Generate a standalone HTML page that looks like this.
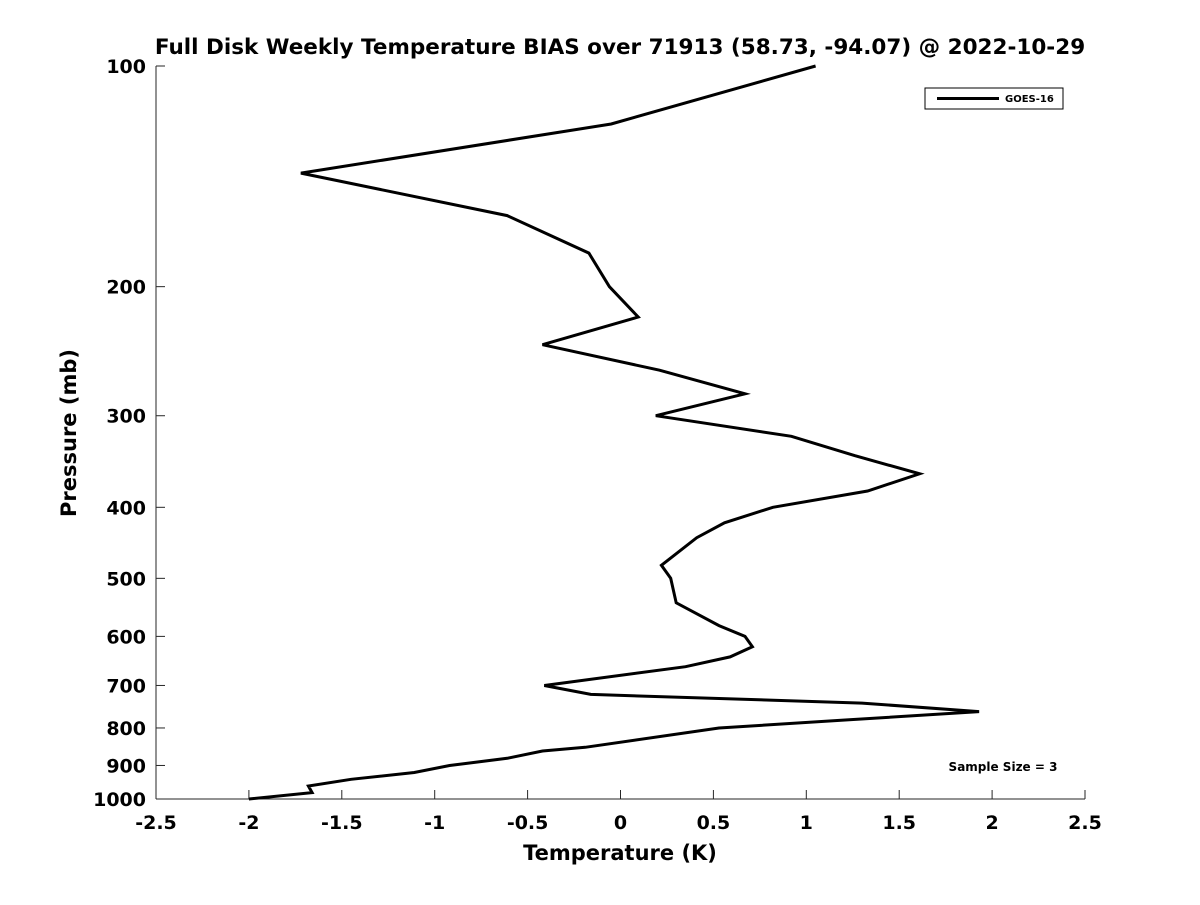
<!DOCTYPE html>
<html><head><meta charset="utf-8"><style>
body{margin:0;background:#fff;}
svg text{font-family:"DejaVu Sans","Liberation Sans",sans-serif;font-weight:bold;fill:#000;}
</style></head><body>
<svg id="chart" width="1200" height="900" xmlns="http://www.w3.org/2000/svg">
<rect width="1200" height="900" fill="#fff"/>
<text x="620" y="54" font-size="21.5" text-anchor="middle">Full Disk Weekly Temperature BIAS over 71913 (58.73, -94.07) @ 2022-10-29</text>
<g id="axes"></g>
<path id="line" fill="none" stroke="#000" stroke-width="3" stroke-linejoin="miter"/>
<g>
<rect x="925" y="88" width="138" height="21" fill="#fff" stroke="#000" stroke-width="1"/>
<line x1="937" y1="98.5" x2="999" y2="98.5" stroke="#000" stroke-width="3"/>
<text x="1005" y="102" font-size="10">GOES-16</text>
</g>
<text x="1003" y="771" font-size="12" text-anchor="middle">Sample Size = 3</text>
<text x="620" y="860" font-size="21" text-anchor="middle" fill="#262626">Temperature (K)</text>
<text x="76" y="433" font-size="21" text-anchor="middle" fill="#262626" transform="rotate(-90 76 433)">Pressure (mb)</text>
</svg>
<script>
const pressures=[100,120,140,160,180,200,220,240,260,280,300,320,340,360,380,400,420,440,480,500,540,580,600,620,640,660,700,720,740,760,780,800,850,860,880,900,920,940,960,980,1000];
const biasValues=[1.05,-0.05,-1.72,-0.61,-0.17,-0.06,0.095,-0.42,0.21,0.67,0.19,0.92,1.26,1.61,1.33,0.82,0.56,0.41,0.22,0.27,0.30,0.53,0.67,0.71,0.59,0.35,-0.41,-0.16,1.30,1.93,1.22,0.53,-0.19,-0.42,-0.61,-0.92,-1.11,-1.45,-1.68,-1.66,-2.0];
const xTicks=[-2.5,-2,-1.5,-1,-0.5,0,0.5,1,1.5,2,2.5];
const yTicks=[100,200,300,400,500,600,700,800,900,1000];
const X0=156,X1=1085,Y0=66,Y1=799;
function xs(v){return X0+(v+2.5)/5*(X1-X0);}
function ys(p){return Y0+Math.log10(p/100)*(Y1-Y0);}
const NS="http://www.w3.org/2000/svg";
const ax=document.getElementById('axes');
function mk(t,a){const e=document.createElementNS(NS,t);for(const k in a)e.setAttribute(k,a[k]);return e;}
let l=mk('line',{x1:X0,y1:Y1,x2:X1,y2:Y1,stroke:'#262626','stroke-width':1});


ax.appendChild(l);
l=mk('line',{x1:X0,y1:Y0,x2:X0,y2:Y1,stroke:'#262626','stroke-width':1});


ax.appendChild(l);
xTicks.forEach(v=>{const x=xs(v);
 const t=mk('line',{x1:x,y1:Y1,x2:x,y2:Y1-9,stroke:'#262626'});
 
 
 ax.appendChild(t);
 const tx=mk('text',{x:x,y:829,'font-size':19,'text-anchor':'middle',fill:'#262626'});
 tx.textContent=String(v);
 
 
 ax.appendChild(tx);});
yTicks.forEach(p=>{const y=ys(p);
 const t=mk('line',{x1:X0,y1:y,x2:X0+9,y2:y,stroke:'#262626'});
 
 
 ax.appendChild(t);
 const tx=mk('text',{x:146,y:y+7,'font-size':19,'text-anchor':'end',fill:'#262626'});
 tx.textContent=String(p);
 
 
 ax.appendChild(tx);});
document.getElementById('line').setAttribute('d',pressures.map((p,i)=>(i?'L':'M')+xs(biasValues[i]).toFixed(1)+','+ys(p).toFixed(1)).join(''));
</script>
</body></html>
